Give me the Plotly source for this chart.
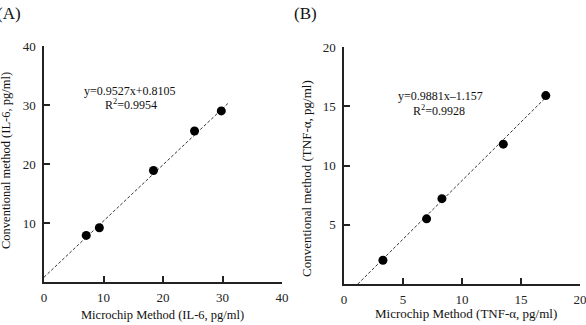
import plotly.graph_objects as go

W, H = 586, 325

# Panel A (IL-6)
il6_micro = [7.1, 9.3, 18.4, 25.3, 29.8]
il6_conv = [7.9, 9.2, 18.9, 25.6, 29.0]
il6_slope, il6_icpt = 0.9527, 0.8105
il6_fit_x = [0, 31.1]

# Panel B (TNF-alpha)
tnf_micro = [3.3, 7.0, 8.3, 13.5, 17.1]
tnf_conv = [2.0, 5.5, 7.2, 11.8, 15.9]
tnf_slope, tnf_icpt = 0.9881, -1.157
tnf_fit_x = [1.171, 17.3]

FONT = "Liberation Serif"

fig = go.Figure()

fig.add_trace(go.Scatter(x=il6_fit_x, y=[il6_slope * v + il6_icpt for v in il6_fit_x],
                         mode="lines", line=dict(color="#333", width=1, dash="3px,2px"),
                         xaxis="x", yaxis="y", showlegend=False))
fig.add_trace(go.Scatter(x=il6_micro, y=il6_conv, mode="markers",
                         marker=dict(color="black", size=9), xaxis="x", yaxis="y", showlegend=False))
fig.add_trace(go.Scatter(x=tnf_fit_x, y=[tnf_slope * v + tnf_icpt for v in tnf_fit_x],
                         mode="lines", line=dict(color="#333", width=1, dash="3px,2px"),
                         xaxis="x2", yaxis="y2", showlegend=False))
fig.add_trace(go.Scatter(x=tnf_micro, y=tnf_conv, mode="markers",
                         marker=dict(color="black", size=9), xaxis="x2", yaxis="y2", showlegend=False))

ax = dict(showline=True, linecolor="#222", linewidth=1.5, ticks="inside", ticklen=6,
          tickcolor="#222", tickwidth=1.5, showgrid=False, zeroline=False, automargin=False,
          ticklabeloverflow="allow",
          tickfont=dict(family=FONT, size=13, color="#222"))

fig.update_layout(
    template="none",
    width=W, height=H, margin=dict(l=0, r=0, t=0, b=0, autoexpand=False),
    paper_bgcolor="white", plot_bgcolor="white",
    xaxis=dict(ax, domain=[44 / W, 282 / W], range=[0, 40], tickvals=[0, 10, 20, 30, 40],
               anchor="y", ticklabelstandoff=3),
    yaxis=dict(ax, domain=[1 - 282 / H, 1 - 46 / H], range=[0, 40], tickvals=[10, 20, 30, 40],
               anchor="x", ticklabelstandoff=4),
    xaxis2=dict(ax, domain=[344 / W, 580 / W], range=[0, 20], tickvals=[0, 5, 10, 15, 20],
                anchor="y2", ticklabelstandoff=3),
    yaxis2=dict(ax, domain=[1 - 284 / H, 1 - 47 / H], range=[0, 20], tickvals=[5, 10, 15, 20],
                anchor="x2", ticklabelstandoff=4),
)

def ann(text, x, y, size, angle=0, xanchor="center"):
    fig.add_annotation(text=text, x=x / W, y=1 - y / H, xref="paper", yref="paper",
                       showarrow=False, textangle=angle, xanchor=xanchor, yanchor="middle",
                       font=dict(family=FONT, size=size, color="#111"))

ann("(A)", -5, 13, 17, xanchor="left")
ann("(B)", 292, 13, 17, xanchor="left")
ann("Conventional method (IL-6, pg/ml)", 6, 161, 12.5, angle=-90)
ann("Conventional method (TNF-α, pg/ml)", 306, 179, 13, angle=-90)
ann("Microchip Method (IL-6, pg/ml)", 163, 315, 12.5)
ann("Microchip Method (TNF-α, pg/ml)", 466, 313, 13)
ann("y=0.9527x+0.8105", 130, 91, 12)
ann("R<sup>2</sup>=0.9954", 131, 104, 12)
ann("y=0.9881x\u20131.157", 440, 96, 12)
ann("R<sup>2</sup>=0.9928", 439, 110, 12)

fig.write_html("out.html")
